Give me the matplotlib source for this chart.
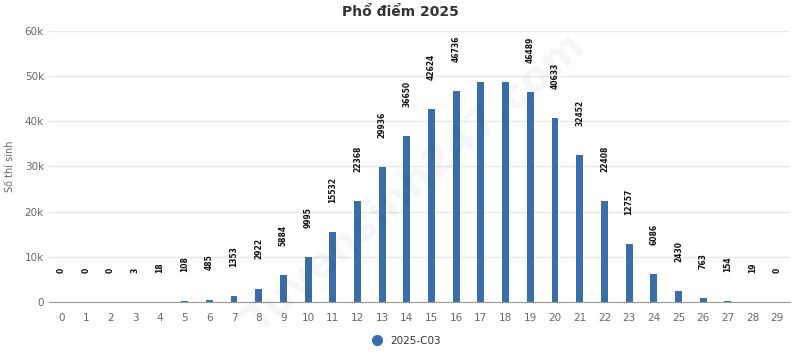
import matplotlib.pyplot as plt
from matplotlib.lines import Line2D
from matplotlib.ticker import FuncFormatter

# data
scores = list(range(30))
counts = [0, 0, 0, 3, 18, 108, 485, 1353, 2922, 5884,
          9995, 15532, 22368, 29936, 36650, 42624, 46736, 48800, 48700, 46489,
          40633, 32452, 22408, 12757, 6086, 2430, 763, 154, 19, 0]
series_name = "2025-C03"
title = "Phổ điểm 2025"

bar_color = "#3a6ea8"
grey = "#666666"

fig = plt.figure(figsize=(8, 3.53), dpi=100)
ax = fig.add_axes([0.061, 0.145, 0.926, 0.767])

ax.bar(scores, counts, width=0.28, color=bar_color, zorder=3)

for x, v in zip(scores, counts):
    if v > 48000:
        continue  # these labels are not shown in the original
    ax.annotate(str(v), (x, v), xytext=(0, 21), textcoords="offset points",
                rotation=90, ha="center", va="bottom", fontsize=5.5,
                fontweight="bold", color="#111111", zorder=4)

ax.set_xlim(-0.5, 29.5)
ax.set_ylim(0, 60000)
ax.set_xticks(scores)
ax.set_yticks(range(0, 60001, 10000))
ax.yaxis.set_major_formatter(FuncFormatter(lambda v, p: "0" if v == 0 else f"{int(v/1000)}k"))
ax.tick_params(axis="both", length=0, labelsize=7.5, colors=grey)
ax.tick_params(axis="x", pad=8)
ax.grid(axis="y", color="#e8e8e8", linewidth=1, zorder=0)
for s in ["top", "right", "left"]:
    ax.spines[s].set_visible(False)
ax.spines["bottom"].set_color("#999999")
ax.spines["bottom"].set_zorder(5)

ax.set_ylabel("Số thí sinh", fontsize=7, color=grey)
ax.yaxis.set_label_coords(-0.045, 0.5)
fig.text(0.5, 0.965, title, ha="center", va="center", fontsize=10,
         fontweight="bold", color="#333333")

handle = Line2D([], [], marker="o", color=bar_color, linestyle="none", markersize=7)
fig.legend([handle], [series_name], loc="center", bbox_to_anchor=(0.505, 0.035),
           frameon=False, fontsize=7.5, handletextpad=0.3, labelcolor="#333333")

# watermark
fig.text(0.519, 0.48, "Tuyensinh247.com", rotation=41, ha="center", va="center",
         fontsize=30, fontweight="bold", color="#000000", alpha=0.04, zorder=10)

fig.savefig("out.png", dpi=100)
